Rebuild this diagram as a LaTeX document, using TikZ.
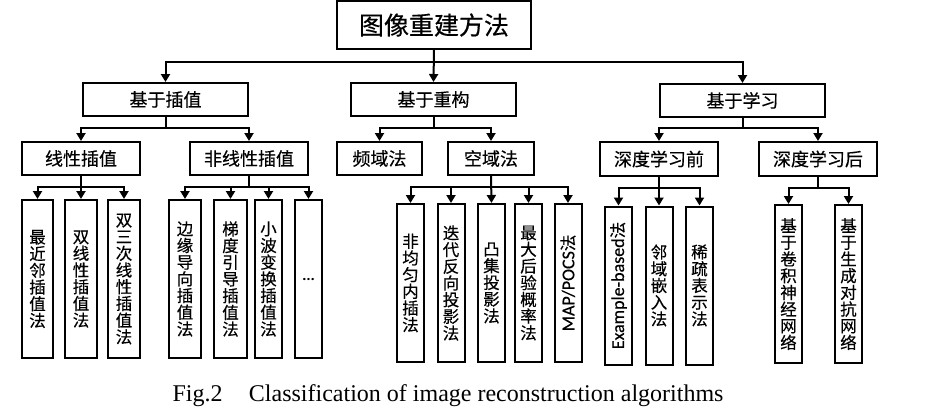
\documentclass[tikz,border=0pt]{standalone}
\usepackage{fontspec}
\setmainfont{Carlito}
\newfontfamily\cjk[FakeBold=0.4]{Noto Sans CJK SC}
\newfontfamily\engfont[FakeBold=0.4]{Carlito}
\newfontfamily\capfont{Liberation Serif}
\usetikzlibrary{arrows.meta,positioning}

\begin{document}
\begin{tikzpicture}[
			x=1pt, y=-1pt,
			every node/.style={font=\cjk},
			box/.style={draw, line width=2pt, inner sep=0pt, minimum height=33pt, font=\cjk\fontsize{18}{18}\selectfont},
			leaf/.style={draw, line width=2pt, inner sep=0pt, minimum width=27pt, minimum height=158pt, align=center, font=\cjk\fontsize{16.5}{16.7}\selectfont},
			conn/.style={line width=2pt, -{Triangle[width=9pt,length=8pt]}}
			]

			\useasboundingbox (0,0) rectangle (938,410);

			\def\ya{279}
			\def\yb{283}
			\def\yc{285.5}

			% root and first level
			\node[box, minimum width=194pt, minimum height=48pt, font=\cjk\fontsize{25}{25}\selectfont] (root) at (434,25) {图像重建方法};
			\node[box, minimum width=165pt] (interp) at (165.5,99.5) {基于插值};
			\node[box, minimum width=165pt] (recon) at (433.5,99.5) {基于重构};
			\node[box, minimum width=165pt] (learn) at (742.5,100.5) {基于学习};

			% second level
			\node[box, minimum width=118pt] (lin) at (81,158.5) {线性插值};
			\node[box, minimum width=118pt] (nonlin) at (249,158.5) {非线性插值};
			\node[box, minimum width=85pt] (freq) at (379.5,158.5) {频域法};
			\node[box, minimum width=86pt] (spat) at (491,158.5) {空域法};
			\node[box, minimum width=118pt, minimum height=34pt] (pre) at (659,159) {深度学习前};
			\node[box, minimum width=118pt, minimum height=34pt] (post) at (818,159) {深度学习后};

			% leaves
			\node[leaf, minimum width=31pt] (nn) at (37.5,\ya) {最\\近\\邻\\插\\值\\法};
			\node[leaf, minimum width=32pt] (bil) at (81,\ya) {双\\线\\性\\插\\值\\法};
			\node[leaf, minimum width=32pt] (bic) at (124,\ya) {双\\三\\次\\线\\性\\插\\值\\法};

			\node[leaf, minimum width=32pt] (edge) at (185,\ya) {边\\缘\\导\\向\\插\\值\\法};
			\node[leaf, minimum width=33pt] (grad) at (230.5,\ya) {梯\\度\\引\\导\\插\\值\\法};
			\node[leaf] (wave) at (268.5,\ya) {小\\波\\变\\换\\插\\值\\法};
			\node[leaf] (more) at (308.5,\ya) {\engfont ...};

			\node[leaf] (nonuni) at (410.5,\yb) {非\\均\\匀\\内\\插\\法};
			\node[leaf] (ibp) at (451,\yb) {迭\\代\\反\\向\\投\\影\\法};
			\node[leaf] (pocs) at (491.5,\yb) {凸\\集\\投\\影\\法};
			\node[leaf] (map) at (528.5,\yb) {最\\大\\后\\验\\概\\率\\法};
			\node[leaf] (mappocs) at (568,\yb) {\rotatebox{90}{{\engfont\fontsize{18}{18}\selectfont MAP/POCS}法}};

			\node[leaf] (exb) at (618.5,\yc) {\rotatebox{90}{{\engfont\fontsize{18}{18}\selectfont Example-based}法}};
			\node[leaf] (ne) at (659,\yc) {邻\\域\\嵌\\入\\法};
			\node[leaf] (sparse) at (699.5,\yc) {稀\\疏\\表\\示\\法};

			\node[leaf] (cnn) at (788.5,284) {基\\于\\卷\\积\\神\\经\\网\\络};
			\node[leaf] (gan) at (848.5,284) {基\\于\\生\\成\\对\\抗\\网\\络};

			% connectors
			\draw[conn] (root.south) -- ++(0,12) -| (interp.north);
			\draw[conn] (root.south) -- (recon.north);
			\draw[conn] (root.south) -- ++(0,12) -| (learn.north);

			\draw[conn] (interp.south) -- ++(0,11) -| (lin.north);
			\draw[conn] (interp.south) -- ++(0,11) -| (nonlin.north);
			\draw[conn] (recon.south) -- ++(0,11) -| (freq.north);
			\draw[conn] (recon.south) -- ++(0,11) -| (spat.north);
			\draw[conn] (learn.south) -- ++(0,10) -| (pre.north);
			\draw[conn] (learn.south) -- ++(0,10) -| (post.north);

			\draw[conn] (lin.south) -- ++(0,11) -| (nn.north);
			\draw[conn] (lin.south) -- (bil.north);
			\draw[conn] (lin.south) -- ++(0,11) -| (bic.north);
			\draw[conn] (nonlin.south) -- ++(0,11) -| (edge.north);
			\draw[conn] (nonlin.south) -- ++(0,11) -| (grad.north);
			\draw[conn] (nonlin.south) -- ++(0,11) -| (wave.north);
			\draw[conn] (nonlin.south) -- ++(0,11) -| (more.north);
			\draw[conn] (spat.south) -- ++(0,11) -| (nonuni.north);
			\draw[conn] (spat.south) -- ++(0,11) -| (ibp.north);
			\draw[conn] (spat.south) -- (pocs.north);
			\draw[conn] (spat.south) -- ++(0,11) -| (map.north);
			\draw[conn] (spat.south) -- ++(0,11) -| (mappocs.north);
			\draw[conn] (pre.south) -- ++(0,11) -| (exb.north);
			\draw[conn] (pre.south) -- (ne.north);
			\draw[conn] (pre.south) -- ++(0,11) -| (sparse.north);
			\draw[conn] (post.south) -- ++(0,11) -| (cnn.north);
			\draw[conn] (post.south) -- ++(0,11) -| (gan.north);

			% caption
			\node[anchor=base, font=\capfont\fontsize{24}{24}\selectfont] (cap) at (448,401) {Fig.2\hspace{1.1em}Classification of image reconstruction algorithms};

			\end{tikzpicture}
\end{document}
